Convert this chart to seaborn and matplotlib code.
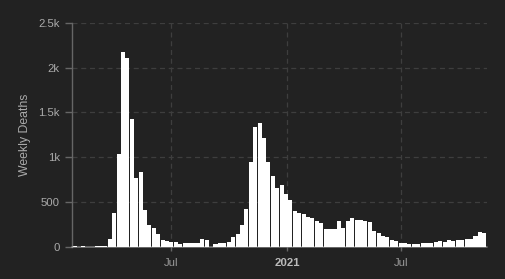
import numpy as np
import pandas as pd
import matplotlib
matplotlib.use("Agg")
import matplotlib.pyplot as plt
import matplotlib.dates as mdates
import seaborn as sns

# ---- data ----
start_date = "2020-01-29"
weekly_deaths = [
    5, 0, 5, 0, 0, 5, 5, 5,
    85, 377, 1035, 2172, 2105, 1425, 767, 834, 410, 243,
    208, 141, 74, 65, 54, 52, 30, 41, 41, 41, 41, 85,
    74, 0, 30, 41, 41, 52, 108, 141, 241, 420,
    944, 1335, 1379, 1212, 944, 788, 654, 688, 587, 520,
    398, 375, 364, 331, 320, 286, 264, 197, 197, 197,
    286, 208, 286, 320, 297, 297, 286, 275, 175, 148,
    119, 108, 74, 63, 41, 41, 30, 30, 30, 41,
    41, 45, 52, 63, 52, 74, 63, 74, 74, 85,
    85, 119, 164, 152,
]
ytick_values = [0, 500, 1000, 1500, 2000, 2500]
ytick_labels = ["0", "500", "1k", "1.5k", "2k", "2.5k"]
xtick_dates = ["2020-07-01", "2021-01-01", "2021-07-01"]
xtick_labels = ["Jul", "2021", "Jul"]
y_label = "Weekly Deaths"

weeks = pd.date_range(start_date, periods=len(weekly_deaths), freq="7D")
df = pd.DataFrame({"x": mdates.date2num(weeks), "deaths": weekly_deaths})

BG = "#222222"
sns.set_theme(style="dark", rc={
    "axes.facecolor": BG, "figure.facecolor": BG,
    "axes.edgecolor": "#666666", "grid.color": "#3e3e3e",
})
plt.rcParams["font.family"] = ["Liberation Sans", "DejaVu Sans"]

fig = plt.figure(figsize=(5.05, 2.79), dpi=100)
ax = fig.add_axes([0.1432, 0.1158, 0.9634 - 0.1432, 0.9186 - 0.1158])

sns.barplot(data=df, x="x", y="deaths", native_scale=True, errorbar=None,
            color="white", saturation=1, width=0.92, linewidth=0, ax=ax)

x0 = df["x"].iloc[0] - 3.5
x1 = df["x"].iloc[-1] + 3.5
ax.set_xlim(x0, x1)
ax.set_ylim(0, 2500)

# grid
ax.grid(True, axis="both", color="#3e3e3e", linestyle=(0, (4, 3)), linewidth=0.9)
ax.set_axisbelow(True)

# y axis
ax.set_yticks(ytick_values)
ax.set_yticklabels(ytick_labels)
ax.tick_params(axis="y", colors="#666666", labelcolor="#aaaaaa", labelsize=8.2,
               length=5, width=1, direction="out", pad=4, left=True)
ax.set_ylabel(y_label, color="#aaaaaa", fontsize=8.8, labelpad=5)
ax.set_xlabel("")

# x axis
xt = mdates.date2num(pd.to_datetime(xtick_dates))
ax.set_xticks(xt)
ax.set_xticklabels(xtick_labels)
ax.tick_params(axis="x", colors="#666666", labelcolor="#999999", labelsize=8.2,
               length=3, width=1, direction="out", pad=5, bottom=True)
for lab in ax.get_xticklabels():
    if lab.get_text() == "2021":
        lab.set_fontweight("bold")
        lab.set_color("#bbbbbb")

for s in ["top", "right"]:
    ax.spines[s].set_visible(False)
ax.spines["left"].set_color("#666666")
ax.spines["left"].set_linewidth(1)
ax.spines["bottom"].set_visible(False)
ax.axhline(0, color="white", alpha=0.38, linewidth=1.2, zorder=5, clip_on=False)

fig.savefig("out.png", dpi=100, facecolor=BG)
